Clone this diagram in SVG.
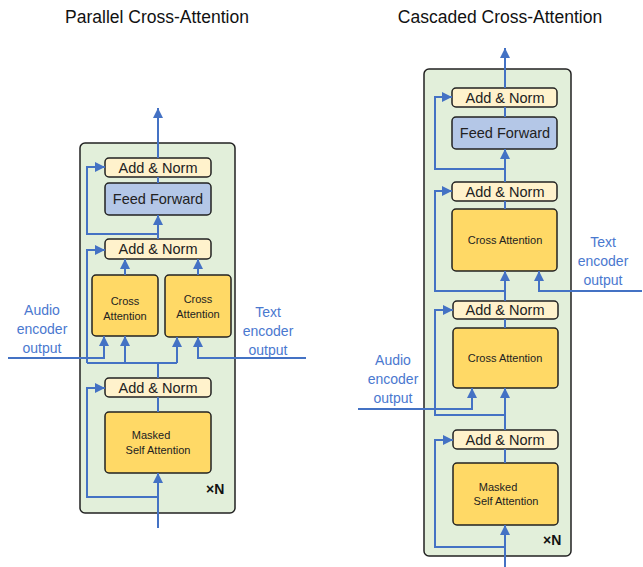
<svg xmlns="http://www.w3.org/2000/svg" width="643" height="567" viewBox="0 0 643 567">
<defs>
<marker id="ah" viewBox="0 0 10 10" refX="10" refY="5" markerWidth="10" markerHeight="11" markerUnits="userSpaceOnUse" orient="auto">
<path d="M0,0 L10,5 L0,10 z" fill="#4472C4"/>
</marker>
<style>
.block{fill:#E2EFDA;stroke:#222;stroke-width:1.5}
.an{fill:#FFF2CC;stroke:#222;stroke-width:1.5}
.ff{fill:#B4C7E7;stroke:#222;stroke-width:1.5}
.att{fill:#FFD966;stroke:#222;stroke-width:1.5}
.t{font-family:"Liberation Sans",Arial,sans-serif;fill:#222;text-anchor:middle}
.big{font-size:14.5px}
.sm{font-size:11px}
.title{font-family:"Liberation Sans",Arial,sans-serif;font-size:17.5px;fill:#111;text-anchor:middle}
.lbl{font-family:"Liberation Sans",Arial,sans-serif;font-size:14px;fill:#4A78CF;text-anchor:middle}
.xn{font-family:"Liberation Sans",Arial,sans-serif;font-size:14px;font-weight:bold;fill:#111}
.c{fill:none;stroke:#4472C4;stroke-width:2}
.a{marker-end:url(#ah)}
</style>
</defs>
<rect width="643" height="567" fill="#fff"/>
<text class="title" x="157" y="23">Parallel Cross-Attention</text>
<text class="title" x="500" y="23">Cascaded Cross-Attention</text>

<g id="left-block"><rect class="block" x="80" y="143" width="155" height="370" rx="5"/><text class="xn" x="206" y="494">×N</text></g>
<g id="l-addnorm1"><rect class="an" x="105" y="158" width="106" height="19" rx="4"/><text class="t big" x="158" y="172.5">Add &amp; Norm</text></g>
<g id="l-ff"><rect class="ff" x="105" y="183" width="106" height="32" rx="4"/><text class="t big" x="158" y="204">Feed Forward</text></g>
<g id="l-addnorm2"><rect class="an" x="105" y="239" width="106" height="20" rx="4"/><text class="t big" x="158" y="254">Add &amp; Norm</text></g>
<g id="l-ca1"><rect class="att" x="92" y="275" width="66" height="61" rx="4"/><text class="t sm" x="125" y="305">Cross</text><text class="t sm" x="125" y="320">Attention</text></g>
<g id="l-ca2"><rect class="att" x="165" y="275" width="66" height="62" rx="4"/><text class="t sm" x="198" y="303">Cross</text><text class="t sm" x="198" y="318">Attention</text></g>
<g id="l-addnorm3"><rect class="an" x="105" y="378" width="106" height="19" rx="4"/><text class="t big" x="158" y="392.5">Add &amp; Norm</text></g>
<g id="l-msa"><rect class="att" x="105" y="412" width="106" height="61" rx="4"/><text class="t sm" x="151" y="439">Masked</text><text class="t sm" x="158" y="454">Self Attention</text></g>
<g id="l-labels"><text class="lbl" x="42" y="315">Audio</text><text class="lbl" x="42" y="334">encoder</text><text class="lbl" x="42" y="353">output</text>
<text class="lbl" x="268" y="317">Text</text><text class="lbl" x="268" y="336">encoder</text><text class="lbl" x="268" y="355">output</text></g>

<g id="right-block"><rect class="block" x="424" y="69" width="147" height="487" rx="5"/><text class="xn" x="543" y="545">×N</text></g>
<g id="r-addnorm1"><rect class="an" x="452" y="88" width="105" height="19" rx="4"/><text class="t big" x="505" y="102.5">Add &amp; Norm</text></g>
<g id="r-ff"><rect class="ff" x="452" y="117" width="105" height="32" rx="4"/><text class="t big" x="505" y="138">Feed Forward</text></g>
<g id="r-addnorm2"><rect class="an" x="452" y="182" width="105" height="19" rx="4"/><text class="t big" x="505" y="196.5">Add &amp; Norm</text></g>
<g id="r-ca1"><rect class="att" x="452" y="209" width="105" height="62" rx="4"/><text class="t sm" x="505" y="244">Cross Attention</text></g>
<g id="r-addnorm3"><rect class="an" x="453" y="301" width="105" height="18" rx="4"/><text class="t big" x="505" y="315">Add &amp; Norm</text></g>
<g id="r-ca2"><rect class="att" x="453" y="328" width="105" height="60" rx="4"/><text class="t sm" x="505" y="362">Cross Attention</text></g>
<g id="r-addnorm4"><rect class="an" x="453" y="430" width="105" height="19" rx="4"/><text class="t big" x="505" y="444.5">Add &amp; Norm</text></g>
<g id="r-msa"><rect class="att" x="453" y="463" width="105" height="62" rx="4"/><text class="t sm" x="498" y="491">Masked</text><text class="t sm" x="506" y="505">Self Attention</text></g>
<g id="r-labels"><text class="lbl" x="603" y="247">Text</text><text class="lbl" x="603" y="266">encoder</text><text class="lbl" x="603" y="285">output</text>
<text class="lbl" x="393" y="365">Audio</text><text class="lbl" x="393" y="384">encoder</text><text class="lbl" x="393" y="403">output</text></g>

<g id="connectors">
<path class="c a" d="M158,158 L158,108"/>
<path class="c" d="M158,183 L158,177"/>
<path class="c a" d="M158,239 L158,215"/>
<path class="c a" d="M158,234 L87,234 L87,167 L105,167"/>
<path class="c a" d="M125,275 L125,259"/>
<path class="c a" d="M198,275 L198,259"/>
<path class="c" d="M158,378 L158,363"/>
<path class="c a" d="M87,363 L87,250 L105,250"/>
<path class="c" d="M87,363 L177,363"/>
<path class="c a" d="M125,363 L125,336"/>
<path class="c a" d="M177,363 L177,337"/>
<path class="c a" d="M8,358 L104,358 L104,336"/>
<path class="c a" d="M306,358 L198,358 L198,337"/>
<path class="c" d="M158,412 L158,397"/>
<path class="c a" d="M158,528 L158,473"/>
<path class="c a" d="M158,497 L87,497 L87,388 L105,388"/>

<path class="c a" d="M505,88 L505,48"/>
<path class="c" d="M505,117 L505,107"/>
<path class="c a" d="M505,182 L505,149"/>
<path class="c a" d="M505,169 L435,169 L435,97 L452,97"/>
<path class="c" d="M505,209 L505,201"/>
<path class="c a" d="M505,301 L505,271"/>
<path class="c a" d="M505,291 L435,291 L435,191 L452,191"/>
<path class="c a" d="M642,291 L539,291 L539,271"/>
<path class="c" d="M505,328 L505,319"/>
<path class="c a" d="M505,430 L505,388"/>
<path class="c a" d="M505,415 L435,415 L435,310 L453,310"/>
<path class="c a" d="M358,409 L472,409 L472,388"/>
<path class="c" d="M505,463 L505,449"/>
<path class="c a" d="M505,567 L505,525"/>
<path class="c a" d="M505,547 L435,547 L435,440 L453,440"/>
</g>
</svg>
